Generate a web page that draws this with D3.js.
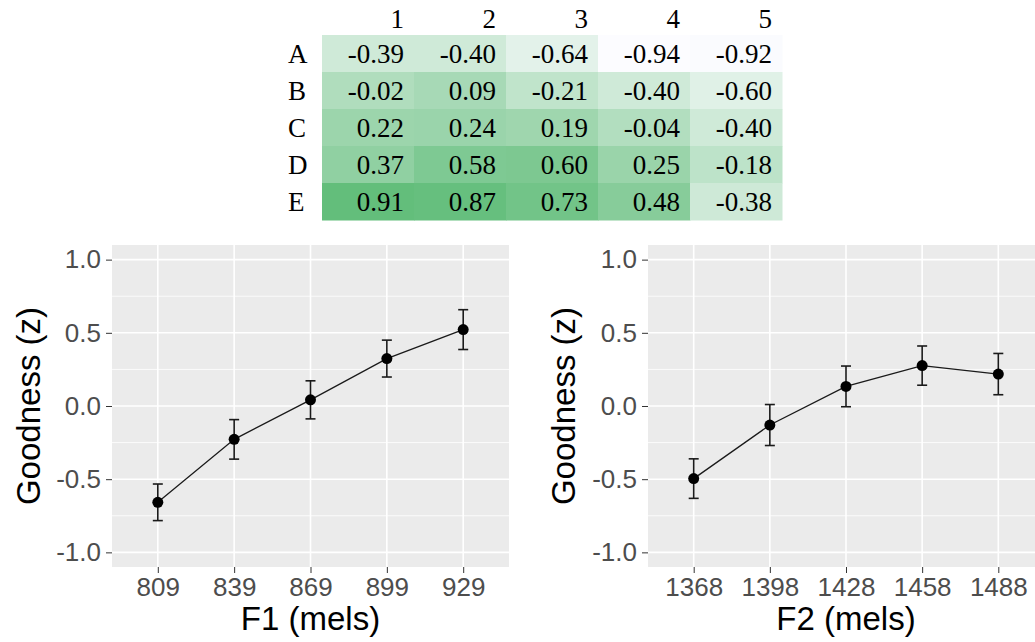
<!DOCTYPE html>
<html>
<head>
<meta charset="utf-8">
<script src="https://cdn.jsdelivr.net/npm/d3@7"></script>
<style>
    body { margin: 0; background: #fff; }
</style>
</head>
<body>
<div id="chart"></div>
<script>

const w = 1035;
const h = 642;

// table
const rowLabels = ['A', 'B', 'C', 'D', 'E'];
const colLabels = ['1', '2', '3', '4', '5'];
const cellValues = [
    [-0.39, -0.40, -0.64, -0.94, -0.92],
    [-0.02, 0.09, -0.21, -0.40, -0.60],
    [0.22, 0.24, 0.19, -0.04, -0.40],
    [0.37, 0.58, 0.60, 0.25, -0.18],
    [0.91, 0.87, 0.73, 0.48, -0.38],
];

// plots
const f1Levels = ['809', '839', '869', '899', '929'];
const f1Means = [-0.658, -0.228, 0.042, 0.324, 0.522];
const f1Se = [0.125, 0.135, 0.13, 0.126, 0.136];

const f2Levels = ['1368', '1398', '1428', '1458', '1488'];
const f2Means = [-0.496, -0.13, 0.134, 0.276, 0.218];
const f2Se = [0.135, 0.14, 0.139, 0.134, 0.141];

const yTicks = [-1.0, -0.5, 0.0, 0.5, 1.0];
const yMinor = [-0.75, -0.25, 0.25, 0.75];

const svg = d3.select('#chart').append('svg')
    .attr('width', w)
    .attr('height', h);

function drawTable() {
    const x = d3.scaleBand().domain(colLabels).range([322, 782]);
    const y = d3.scaleBand().domain(rowLabels).range([35, 220]);

    const all = cellValues.flat();
    const fill = d3.scaleLinear()
        .domain([d3.min(all), d3.max(all)])
        .range(['#FCFCFF', '#63BE7B'])
        .interpolate(d3.interpolateRgb);

    const g = svg.append('g')
        .style('font-family', '"Liberation Serif", "Times New Roman", serif')
        .style('font-size', '27px');

    const cells = [];
    cellValues.forEach((row, i) => row.forEach((v, j) => cells.push({r: rowLabels[i], c: colLabels[j], v: v})));

    g.selectAll('rect.cell')
        .data(cells)
        .enter()
        .append('rect')
        .attr('class', 'cell')
        .attr('x', d => x(d.c))
        .attr('y', d => y(d.r))
        .attr('width', x.bandwidth() + 0.5)
        .attr('height', y.bandwidth() + 0.5)
        .attr('fill', d => fill(d.v));

    g.selectAll('text.val')
        .data(cells)
        .enter()
        .append('text')
        .attr('class', 'val')
        .attr('x', d => x(d.c) + x.bandwidth() - 10)
        .attr('y', d => y(d.r) + y.bandwidth() / 2)
        .attr('dy', '0.35em')
        .attr('text-anchor', 'end')
        .text(d => d3.format('.2f')(d.v).replace('−', '-'));

    g.selectAll('text.col')
        .data(colLabels)
        .enter()
        .append('text')
        .attr('x', d => x(d) + x.bandwidth() - 10)
        .attr('y', 28)
        .attr('text-anchor', 'end')
        .text(d => d);

    g.selectAll('text.row')
        .data(rowLabels)
        .enter()
        .append('text')
        .attr('x', 288)
        .attr('y', d => y(d) + y.bandwidth() / 2)
        .attr('dy', '0.35em')
        .text(d => d);
}

function drawPlot(left, right, levels, means, se, xTitle, yTitleX) {
    const top = 245, bottom = 567;
    const x = d3.scalePoint().domain(levels).range([left, right]).padding(0.6);
    const y = d3.scaleLinear().domain([-1.1, 1.1]).range([bottom, top]);

    const g = svg.append('g')
        .style('font-family', '"Liberation Sans", Arial, Helvetica, sans-serif');

    g.append('rect')
        .attr('x', left)
        .attr('y', top)
        .attr('width', right - left)
        .attr('height', bottom - top)
        .attr('fill', '#EBEBEB');

    g.selectAll('line.minor')
        .data(yMinor)
        .enter()
        .append('line')
        .attr('x1', left).attr('x2', right)
        .attr('y1', d => y(d)).attr('y2', d => y(d))
        .attr('stroke', '#fff')
        .attr('stroke-width', 0.8);

    g.selectAll('line.ymajor')
        .data(yTicks)
        .enter()
        .append('line')
        .attr('x1', left).attr('x2', right)
        .attr('y1', d => y(d)).attr('y2', d => y(d))
        .attr('stroke', '#fff')
        .attr('stroke-width', 1.6);

    g.selectAll('line.xmajor')
        .data(levels)
        .enter()
        .append('line')
        .attr('x1', d => x(d)).attr('x2', d => x(d))
        .attr('y1', top).attr('y2', bottom)
        .attr('stroke', '#fff')
        .attr('stroke-width', 1.6);

    const yAxis = d3.axisLeft(y)
        .tickValues(yTicks)
        .tickFormat(d3.format('.1f'))
        .tickSize(6)
        .tickPadding(5);

    const ya = g.append('g')
        .attr('transform', `translate(${left},0)`)
        .call(yAxis);
    ya.select('.domain').remove();
    ya.selectAll('line').attr('stroke', '#333');
    ya.selectAll('text')
        .attr('fill', '#4D4D4D')
        .style('font-size', '26px')
        .style('font-family', '"Liberation Sans", Arial, sans-serif')
        .text(d => d3.format('.1f')(d).replace('−', '-'));

    const xAxis = d3.axisBottom(x)
        .tickSize(6)
        .tickPadding(6);

    const xa = g.append('g')
        .attr('transform', `translate(0,${bottom})`)
        .call(xAxis);
    xa.select('.domain').remove();
    xa.selectAll('line').attr('stroke', '#333');
    xa.selectAll('text')
        .attr('fill', '#4D4D4D')
        .attr('dy', null)
        .attr('y', 29)
        .style('font-size', '26px')
        .style('font-family', '"Liberation Sans", Arial, sans-serif');

    g.append('text')
        .attr('x', (left + right) / 2)
        .attr('y', 630)
        .attr('text-anchor', 'middle')
        .style('font-size', '33px')
        .attr('fill', '#000')
        .text(xTitle);

    g.append('text')
        .attr('transform', `translate(${yTitleX},${(top + bottom) / 2}) rotate(-90)`)
        .attr('text-anchor', 'middle')
        .attr('dy', '0.35em')
        .style('font-size', '33px')
        .attr('fill', '#000')
        .text('Goodness (z)');

    const pts = levels.map((l, i) => ({l: l, m: means[i], se: se[i]}));

    g.append('path')
        .datum(pts)
        .attr('fill', 'none')
        .attr('stroke', '#1a1a1a')
        .attr('stroke-width', 1.3)
        .attr('d', d3.line().x(d => x(d.l)).y(d => y(d.m)));

    const eb = g.selectAll('g.eb')
        .data(pts)
        .enter()
        .append('g')
        .attr('stroke', '#1a1a1a')
        .attr('stroke-width', 1.6);

    eb.append('line')
        .attr('x1', d => x(d.l)).attr('x2', d => x(d.l))
        .attr('y1', d => y(d.m - d.se)).attr('y2', d => y(d.m + d.se));
    eb.append('line')
        .attr('x1', d => x(d.l) - 5).attr('x2', d => x(d.l) + 5)
        .attr('y1', d => y(d.m + d.se)).attr('y2', d => y(d.m + d.se));
    eb.append('line')
        .attr('x1', d => x(d.l) - 5).attr('x2', d => x(d.l) + 5)
        .attr('y1', d => y(d.m - d.se)).attr('y2', d => y(d.m - d.se));

    g.selectAll('circle')
        .data(pts)
        .enter()
        .append('circle')
        .attr('cx', d => x(d.l))
        .attr('cy', d => y(d.m))
        .attr('r', 5.5)
        .attr('fill', '#000');
}

drawTable();
drawPlot(112, 509, f1Levels, f1Means, f1Se, 'F1 (mels)', 28);
drawPlot(648, 1044, f2Levels, f2Means, f2Se, 'F2 (mels)', 563);

</script>
</body>
</html>
